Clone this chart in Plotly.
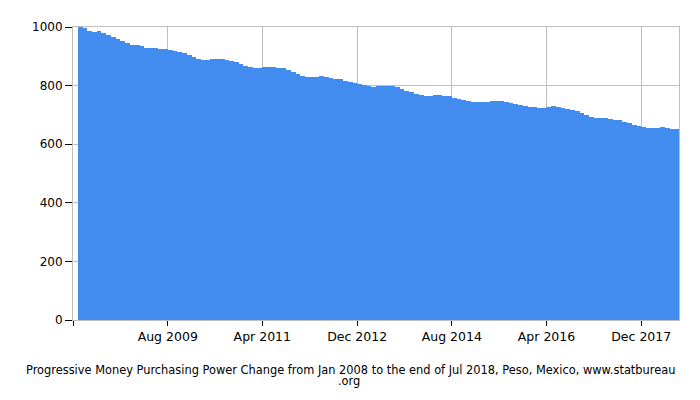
import pandas as pd
import plotly.graph_objects as go

# Monthly purchasing power (Jan 2008 = start) of 1000 MXN
start_month = "2008-01-01"
values = [
    1000, 995, 985, 984, 985, 980, 974, 967, 960, 953, 944, 939,
    937, 934, 930, 928, 929, 926, 924, 922, 918, 914, 910, 906,
    898, 892, 886, 889, 892, 892, 891, 888, 884, 879, 873, 867,
    863, 861, 860, 864, 865, 862, 860, 859, 853, 845, 838, 832,
    830, 828, 830, 833, 830, 827, 824, 821, 817, 813, 809, 806,
    802, 798, 795, 797, 799, 798, 797, 794, 789, 783, 777, 771,
    768, 766, 765, 768, 769, 766, 763, 759, 755, 750, 747, 745,
    745, 743, 745, 748, 747, 746, 745, 741, 738, 735, 732, 728,
    726, 725, 725, 727, 729, 727, 725, 721, 718, 713, 708, 698,
    692, 688, 688, 688, 687, 684, 681, 677, 673, 667, 662, 659,
    657, 655, 656, 658, 656, 653, 651,
]
tick_dates = ["2007-12-01", "2009-08-01", "2011-04-01", "2012-12-01",
              "2014-08-01", "2016-04-01", "2017-12-01"]
tick_labels = ["", "Aug 2009", "Apr 2011", "Dec 2012", "Aug 2014", "Apr 2016", "Dec 2017"]
y_ticks = [0, 200, 400, 600, 800, 1000]
footnote_1 = "Progressive Money Purchasing Power Change from Jan 2008 to the end of Jul 2018, Peso, Mexico, www.statbureau"
footnote_2 = ".org"

starts = pd.date_range(start_month, periods=len(values), freq="MS")
ends = starts + pd.offsets.MonthBegin(1)
centers = starts + (ends - starts) / 2
widths = [(e - s).total_seconds() * 1000 for s, e in zip(starts, ends)]

fig = go.Figure(go.Bar(
    x=centers, y=values, width=widths,
    marker=dict(color="#428BEF", line=dict(width=0)),
    hoverinfo="x+y",
))

fig.update_layout(
    width=700, height=400,
    margin=dict(l=64.5, r=29.3, t=14.3, b=88.3),
    paper_bgcolor="white", plot_bgcolor="white",
    bargap=0, showlegend=False,
    font=dict(family="DejaVu Sans", size=12, color="#000"),
)
fig.update_xaxes(
    type="date", range=["2007-12-01", "2018-08-01"],
    tickmode="array", tickvals=tick_dates, ticktext=tick_labels,
    ticks="outside", ticklen=5, tickcolor="#000",
    showgrid=True, gridcolor="#BEBEBE", gridwidth=1,
    showline=True, linecolor="#BEBEBE", mirror=True,
    tickfont=dict(size=12.5), zeroline=False,
)
fig.update_yaxes(
    range=[0, 1000], tickmode="array", tickvals=y_ticks,
    ticks="outside", ticklen=7, tickcolor="#000",
    showgrid=True, gridcolor="#BEBEBE", gridwidth=1,
    showline=True, linecolor="#BEBEBE", mirror=True,
    zeroline=False, tickfont=dict(size=12),
)
fig.add_annotation(text=footnote_1, xref="paper", yref="paper",
                   x=0.4586, y=0, yshift=-50, yanchor="middle",
                   showarrow=False, font=dict(size=11.4))
fig.add_annotation(text=footnote_2, xref="paper", yref="paper",
                   x=0.456, y=0, yshift=-61, yanchor="middle",
                   showarrow=False, font=dict(size=11.4))

fig.write_html("out.html")
